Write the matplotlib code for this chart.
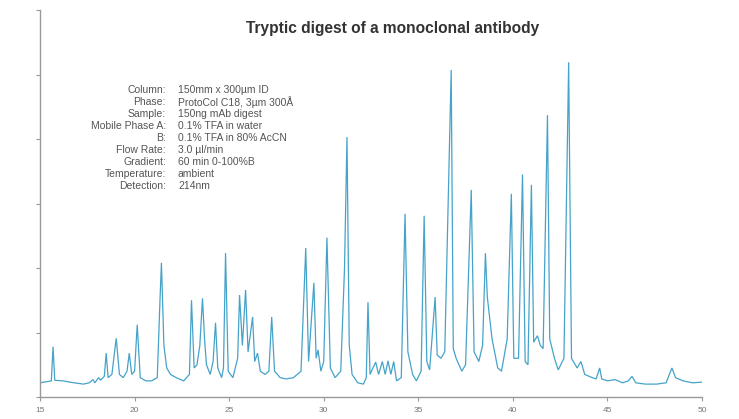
#!/usr/bin/env python3
"""
Chromatogram of a tryptic digest (mAb) - redrawn from reference picture.
"""
import matplotlib
matplotlib.use("Agg")
import matplotlib.pyplot as plt

OUT_PNG = "out.png"

# retention time (min) and detector signal (arbitrary units)
time_min = [
    15.00, 15.40, 15.60, 15.69, 15.78, 16.20, 16.80, 17.30, 17.60, 17.80,
    17.90, 18.10, 18.20, 18.40, 18.50, 18.60, 18.80, 19.03, 19.20, 19.40,
    19.60, 19.72, 19.85, 20.00, 20.14, 20.30, 20.60, 20.90, 21.20, 21.35,
    21.42, 21.55, 21.70, 21.90, 22.20, 22.60, 22.90, 23.01, 23.15, 23.30,
    23.45, 23.59, 23.70, 23.80, 24.00, 24.15, 24.28, 24.40, 24.60, 24.70,
    24.81, 24.95, 25.20, 25.45, 25.55, 25.70, 25.87, 26.00, 26.24, 26.35,
    26.50, 26.65, 26.90, 27.10, 27.25, 27.40, 27.70, 28.00, 28.40, 28.80,
    29.05, 29.20, 29.48, 29.60, 29.70, 29.85, 30.00, 30.17, 30.35, 30.60,
    30.90, 31.10, 31.23, 31.35, 31.50, 31.80, 32.10, 32.25, 32.34, 32.45,
    32.60, 32.75, 32.90, 33.10, 33.25, 33.40, 33.55, 33.70, 33.85, 34.10,
    34.30, 34.45, 34.70, 34.90, 35.15, 35.31, 35.45, 35.60, 35.89, 36.00,
    36.20, 36.40, 36.74, 36.85, 37.00, 37.30, 37.50, 37.80, 37.95, 38.20,
    38.40, 38.55, 38.65, 38.90, 39.20, 39.40, 39.70, 39.92, 40.05, 40.30,
    40.51, 40.65, 40.80, 40.98, 41.10, 41.30, 41.45, 41.60, 41.83, 41.95,
    42.20, 42.40, 42.70, 42.95, 43.10, 43.40, 43.60, 43.80, 44.20, 44.40,
    44.59, 44.70, 45.00, 45.40, 45.80, 46.10, 46.30, 46.50, 47.00, 47.60,
    48.10, 48.41, 48.60, 49.00, 49.50, 50.00,
]
signal = [
    0.22, 0.24, 0.25, 0.78, 0.26, 0.25, 0.22, 0.20, 0.22, 0.27,
    0.22, 0.30, 0.26, 0.32, 0.68, 0.30, 0.35, 0.91, 0.35, 0.30,
    0.40, 0.68, 0.35, 0.40, 1.12, 0.30, 0.25, 0.25, 0.30, 1.55,
    2.08, 0.80, 0.45, 0.35, 0.30, 0.25, 0.35, 1.50, 0.45, 0.50,
    0.80, 1.53, 0.90, 0.50, 0.35, 0.55, 1.15, 0.45, 0.30, 0.45,
    2.23, 0.40, 0.30, 0.60, 1.58, 0.80, 1.66, 0.70, 1.24, 0.55,
    0.68, 0.40, 0.35, 0.40, 1.24, 0.40, 0.30, 0.28, 0.30, 0.40,
    2.31, 0.55, 1.77, 0.60, 0.73, 0.40, 0.55, 2.47, 0.45, 0.30,
    0.40, 2.00, 4.03, 0.80, 0.35, 0.22, 0.20, 0.30, 1.47, 0.35,
    0.45, 0.54, 0.35, 0.55, 0.35, 0.56, 0.35, 0.55, 0.25, 0.30,
    2.84, 0.70, 0.35, 0.25, 0.40, 2.81, 0.55, 0.42, 1.55, 0.65,
    0.60, 0.70, 5.07, 0.75, 0.60, 0.40, 0.50, 3.21, 0.70, 0.55,
    0.80, 2.23, 1.55, 0.90, 0.45, 0.40, 0.90, 3.15, 0.60, 0.60,
    3.45, 0.55, 0.50, 3.29, 0.85, 0.95, 0.80, 0.75, 4.37, 0.90,
    0.60, 0.42, 0.60, 5.19, 0.60, 0.45, 0.55, 0.35, 0.30, 0.28,
    0.45, 0.28, 0.25, 0.27, 0.22, 0.25, 0.32, 0.22, 0.20, 0.20,
    0.22, 0.45, 0.30, 0.25, 0.22, 0.23,
]

x_ticks = [15, 20, 25, 30, 35, 40, 45, 50]
y_ticks = [0, 1, 2, 3, 4, 5, 6]

TITLE = "Tryptic digest of a monoclonal antibody"

cond_labels = [
    "Column:", "Phase:", "Sample:", "Mobile Phase A:", "B:",
    "Flow Rate:", "Gradient:", "Temperature:", "Detection:",
]
cond_values = [
    "150mm x 300\u00b5m ID", "ProtoCol C18, 3\u00b5m 300\u00c5",
    "150ng mAb digest", "0.1% TFA in water", "0.1% TFA in 80% AcCN",
    "3.0 \u00b5l/min", "60 min 0-100%B", "ambient", "214nm",
]


def main():
    W, H = 739, 419
    fig = plt.figure(figsize=(W / 100, H / 100), dpi=100)
    plt.rcParams['font.family'] = ['Liberation Sans', 'DejaVu Sans']

    # axes box in pixel terms of the reference
    left, right, top, bottom = 40, 702, 10, 397
    ax = fig.add_axes([left / W, (H - bottom) / H, (right - left) / W, (bottom - top) / H])

    ax.plot(time_min, signal, color='#45a3c9', lw=0.9, solid_joinstyle='miter')

    ax.set_xlim(15, 50)
    ax.set_ylim(0, 6)
    ax.set_xticks(x_ticks)
    ax.set_yticks(y_ticks)
    ax.set_yticklabels([])
    ax.tick_params(axis='x', labelsize=6, labelcolor='#777777', color='#999999',
                   length=3, width=0.8, pad=4)
    ax.tick_params(axis='y', color='#999999', length=3, width=0.8)

    for s in ('top', 'right'):
        ax.spines[s].set_visible(False)
    for s in ('left', 'bottom'):
        ax.spines[s].set_color('#999999')
        ax.spines[s].set_linewidth(1.0)

    fig.text(393 / W, 1 - 29 / H, TITLE, ha='center', va='center',
             fontsize=11.2, fontweight='bold', color='#333333')

    for i, (lab, val) in enumerate(zip(cond_labels, cond_values)):
        y = 1 - (90 + 12 * i) / H
        fig.text(166 / W, y, lab, ha='right', va='center', fontsize=7.5, color='#555555')
        fig.text(178 / W, y, val, ha='left', va='center', fontsize=7.5, color='#555555')

    fig.savefig(OUT_PNG, dpi=100)
    plt.close(fig)


if __name__ == "__main__":
    main()
